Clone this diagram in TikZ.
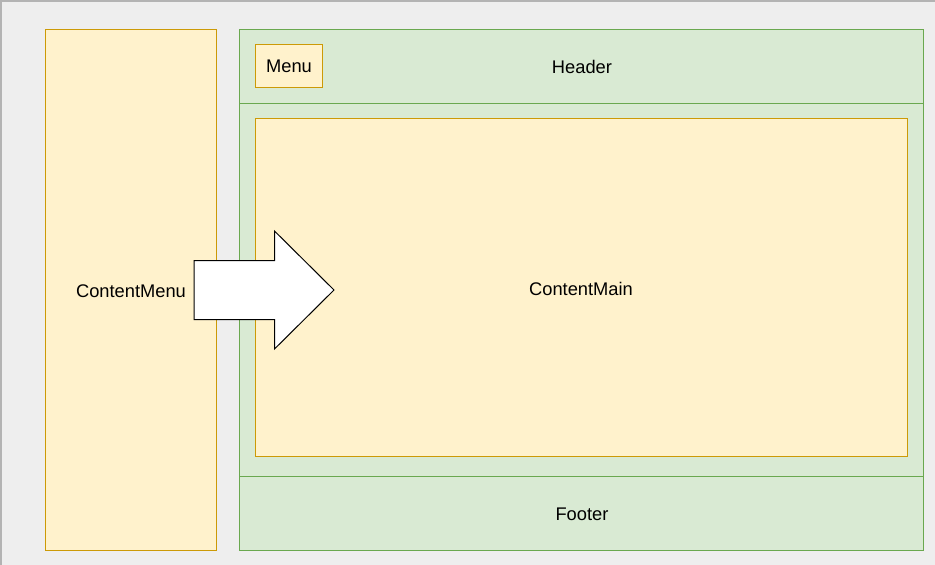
\documentclass[tikz,border=0pt]{standalone}
\usepackage{fontspec}
\setmainfont{Liberation Sans}
\definecolor{bgc}{HTML}{EEEEEE}
\definecolor{bgline}{HTML}{B3B3B3}
\definecolor{yfill}{HTML}{FFF2CC}
\definecolor{yline}{HTML}{CC9A06}
\definecolor{gfill}{HTML}{D9EAD3}
\definecolor{gline}{HTML}{6AA84F}
\begin{document}
\begin{tikzpicture}[x=1pt,y=-1pt,
  ybox/.style={draw=yline,fill=yfill,line width=1pt},
  gbox/.style={draw=gline,fill=gfill,line width=1pt},
  lbl/.style={font=\fontsize{18.3}{22}\selectfont,text=black}]
\useasboundingbox (0,0) rectangle (935,565);
\fill[bgc] (0,0) rectangle (935,565);
\draw[bgline,line width=1.5pt] (0.75,565) -- (0.75,0.75) -- (935,0.75);
% ContentMenu
\draw[ybox] (45.5,29.5) rectangle (216.5,550.5);
\node[lbl] (cmenu) at (131,291) {ContentMenu};
% Main container
\draw[gbox] (239.5,29.5) rectangle (923.5,550.5);
\draw[gbox] (239.5,29.5) rectangle (923.5,103.5);
\draw[gbox] (239.5,476.5) rectangle (923.5,550.5);
\node[lbl] (header) at (582,67) {Header};
\node[lbl] (footer) at (582,514) {Footer};
% Menu
\draw[ybox] (255.5,44.5) rectangle (322.5,87.5);
\node[lbl] (menu) at (289,66) {Menu};
% ContentMain
\draw[ybox] (255.5,118.5) rectangle (907.5,456.5);
\node[lbl] (cmain) at (581,289) {ContentMain};
% Arrow
\draw[fill=white,draw=black,line width=1pt,line join=miter]
  (194,260.5) -- (274.5,260.5) -- (274.5,231) -- (334,290) -- (274.5,349) -- (274.5,319.5) -- (194,319.5) -- cycle;
\end{tikzpicture}
\end{document}
